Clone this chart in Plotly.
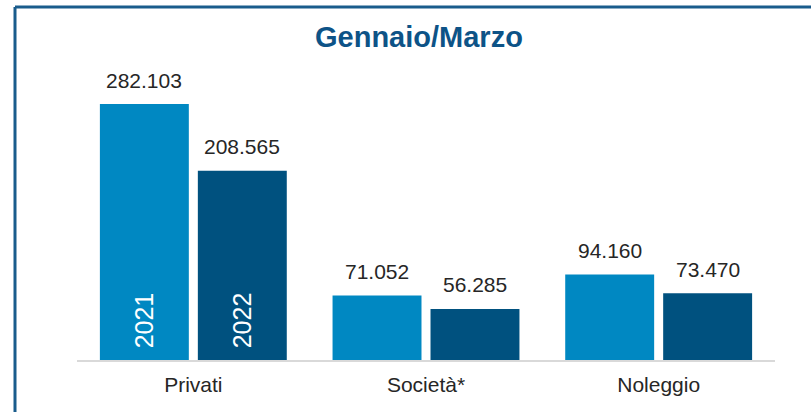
import plotly.graph_objects as go

categories = ["Privati", "Società*", "Noleggio"]
years = ["2021", "2022"]
values_2021 = [282103, 71052, 94160]
values_2022 = [208565, 56285, 73470]
title_text = "Gennaio/Marzo"

c_light = "#0088C2"
c_dark = "#00517F"
c_title = "#0D5387"
c_border = "#1A5C8C"
c_text = "#262626"
FONT = "Liberation Sans, Arial, sans-serif"

BARGAP = 0.158
BARGROUPGAP = 0.092


def fmt(v):
    return f"{v:,}".replace(",", ".")


fig = go.Figure()
for name, vals, col in [(years[0], values_2021, c_light), (years[1], values_2022, c_dark)]:
    fig.add_trace(go.Bar(x=categories, y=vals, name=name, marker=dict(color=col, line=dict(width=0)),
                         hoverinfo="skip"))

off = (1 - BARGAP) / 4
annotations = []
for i in range(len(categories)):
    for j, (vals, yr) in enumerate([(values_2021, years[0]), (values_2022, years[1])]):
        xpos = i + (-off if j == 0 else off)
        annotations.append(dict(x=xpos, y=vals[i], xref="x", yref="y", text=fmt(vals[i]),
                                showarrow=False, xanchor="center", yanchor="middle", yshift=24,
                                font=dict(family=FONT, size=21, color=c_text)))
        if i == 0:
            annotations.append(dict(x=xpos, y=0, xref="x", yref="y", text=yr, textangle=-90,
                                    showarrow=False, xanchor="center", yanchor="middle", yshift=40,
                                    font=dict(family=FONT, size=25, color="white")))

annotations.append(dict(x=(418.5 - 77) / 698, y=(360 - 37) / 290, xref="paper", yref="paper",
                        text=f"<b>{title_text}</b>", showarrow=False, xanchor="center", yanchor="middle",
                        font=dict(family=FONT, size=29, color=c_title)))

y_top = (360 - 7) / 290
x_left = (15 - 77) / 698
shapes = [
    dict(type="line", xref="paper", yref="paper", x0=x_left, x1=1.2, y0=y_top,
         y1=y_top, line=dict(color=c_border, width=3), layer="above"),
    dict(type="line", xref="paper", yref="paper", x0=x_left, x1=x_left,
         y0=y_top, y1=-0.3, line=dict(color=c_border, width=3), layer="above"),
]

fig.update_layout(
    width=811, height=412,
    margin=dict(l=77, r=36, t=70, b=52),
    paper_bgcolor="white", plot_bgcolor="white",
    barmode="group", bargap=BARGAP, bargroupgap=BARGROUPGAP,
    showlegend=False,
    annotations=annotations,
    shapes=shapes,
    xaxis=dict(showline=True, linecolor="#D9D9D9", linewidth=2, ticks="", showgrid=False,
               tickfont=dict(family=FONT, size=21, color=c_text), ticklabelstandoff=5),
    yaxis=dict(visible=False, range=[0, 290 * 282103 / 256], showgrid=False),
    font=dict(family=FONT),
)

fig.write_html("out.html", config={"displayModeBar": False},
               post_script="document.body.style.margin='0';document.body.style.overflow='hidden';")
